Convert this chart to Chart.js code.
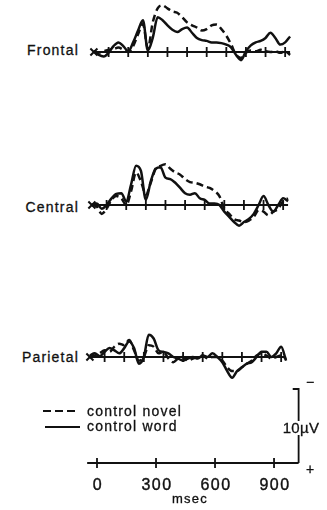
<!DOCTYPE html>
<html>
<head>
<meta charset="utf-8">
<script src="https://cdn.jsdelivr.net/npm/chart.js@4/dist/chart.umd.min.js"></script>
<style>
  body { margin: 0; background: #fff; width: 327px; height: 510px; position: relative; overflow: hidden;
         font-family: "Liberation Sans", Arial, sans-serif; color: #111; }
  canvas { position: absolute; }
  .lbl { position: absolute; font-size: 14px; letter-spacing: 1.2px; line-height: 14px; -webkit-text-stroke: 0.3px #111; }
  .site { text-align: right; width: 70px; }
  .num { transform: translateX(-50%); text-align: center; }
</style>
</head>
<body>
<div class="lbl site" style="left:9px; top:43px;">Frontal</div>
<div class="lbl site" style="left:9px; top:200px;">Central</div>
<div class="lbl site" style="left:9px; top:350px;">Parietal</div>

<canvas id="frontal" width="204" height="80" style="left:89px; top:2px;"></canvas>
<canvas id="central" width="204" height="80" style="left:87px; top:155px;"></canvas>
<canvas id="parietal" width="204" height="80" style="left:85px; top:307px;"></canvas>
<canvas id="calib" width="240" height="130" style="left:80px; top:380px;"></canvas>

<svg style="position:absolute; left:40px; top:404px;" width="45" height="30">
  <line x1="3" y1="7" x2="38" y2="7" stroke="#111" stroke-width="2.2" stroke-dasharray="8 4"/>
  <line x1="5" y1="23" x2="40" y2="23" stroke="#111" stroke-width="2.2"/>
</svg>
<div class="lbl" style="left:87px; top:404px;">control novel</div>
<div class="lbl" style="left:87px; top:419px;">control word</div>

<div class="lbl" style="left:306px; top:375px;">−</div>
<div class="lbl" style="left:306px; top:462px;">+</div>
<div class="lbl num" style="left:301px; top:421px; background:#fff; letter-spacing:0.3px; font-size:15px;">10µV</div>
<div class="lbl num" style="left:190px; top:492px; font-size:13px;">msec</div>

<script>
// time points (ms) shared by all waveforms
const times = [-75, -50, -25, 0, 25, 50, 75, 100, 125, 150, 175, 200, 225, 250, 275, 300, 325, 350, 375, 400,
               425, 450, 475, 500, 525, 550, 575, 600, 625, 650, 675, 700, 725, 750, 775, 800, 825, 850, 875, 900, 925];

// amplitudes in microvolts, negative plotted up
const frontalNovel = [-0.1, 0.1, -0.1, -0.3, -0.4, -0.6, -0.3, 0, -0.8, -2.4, -3.8, -0.5, -4.0, -5.9, -6.3, -5.9, -5.5, -5.3, -4.7, -4.0,
                      -3.6, -3.3, -2.9, -3.1, -3.6, -3.7, -3.1, -2.2, -1.0, 0.4, 0.8, 0.1, -0.2, -0.1, -0.3, -0.1, 0, -0.1, 0.1, -0.1, 0.4];
const frontalWord = [-0.1, 0.4, 0.6, 0.1, -0.8, -1.3, -0.8, -0.1, -1.3, -2.9, -4.3, -0.2, -1.9, -4.7, -4.3, -3.6, -3.0, -2.7, -3.1, -3.3,
                     -2.6, -1.9, -1.6, -1.5, -1.3, -1.3, -1.2, -1.0, -0.6, 0.4, 1.1, -0.1, -0.9, -1.3, -1.5, -1.9, -2.6, -1.9, -1.0, -1.3, -2.1];
const centralNovel = [0, 0.2, 1.2, 0.5, -0.7, -1.2, -0.9, 0, -1.9, -4.4, -3.2, -1.4, -3.0, -4.9, -5.3, -5.5, -4.9, -4.4, -4.1, -3.5,
                      -3.1, -3.0, -2.8, -2.5, -2.3, -1.9, -1.2, 0.5, 1.2, 1.9, 2.1, 2.3, 2.1, 1.6, 0.7, 0.9, 1.4, 0.9, 0.5, -0.5, -0.9];
const centralWord = [0, -0.2, 0.5, 0, -0.9, -1.5, -1.6, -0.5, -2.8, -5.3, -4.6, -0.7, -3.2, -4.9, -5.1, -3.7, -3.5, -3.0, -2.3, -1.6,
                     -1.4, -1.6, -0.9, -0.7, -0.2, -0.2, 0, 0.9, 1.6, 2.3, 2.8, 2.3, 1.9, 1.2, 0, -1.2, 0, 0.9, 0, -0.9, -0.5];
const parietalNovel = [0, -0.2, -0.5, -0.9, -0.7, -1.4, -1.8, -1.6, -2.3, -0.9, 0.5, 0, -1.6, -1.4, -0.5, -0.7, 0.2, 0.7, 0.2, 0,
                       0.5, 0.2, 0, -0.2, 0.2, 0, 0, 0.5, 1.4, 1.9, 1.9, 1.4, 0.9, 0.5, -0.2, -0.5, -0.2, 0.2, 0, -0.2, 0.3];
const parietalWord = [-0.2, -0.5, -0.1, -0.7, -1.2, -0.9, -0.5, -1.2, -2.1, -1.2, 0.9, 0, -3.0, -2.5, -0.9, -0.7, -0.5, 0, 0.2, 0.5,
                      0.2, 0, 0.2, -0.2, 0, -0.5, 0, 0.7, 1.9, 2.8, 1.9, 1.4, 0.9, 0.7, 0, -0.7, -0.7, 0, -0.5, -1.4, 0.5];

const panelTicks = [0, 100, 200, 300, 400, 500, 600, 700, 800, 900];
const calibTicks = [0, 300, 600, 900];
const calibTickLabels = ['0', '300', '600', '900'];
const calibLine = [-50, 1025];     // ms
const calibBarUV = 10;             // microvolts

const PX_PER_UV = 7.4;
const INK = '#111';

// baseline + tick marks drawn through the x scale
const baselinePlugin = {
  id: 'erpAxis',
  beforeDatasetsDraw(chart, args, opts) {
    const { ctx } = chart;
    const xs = chart.scales.x, ys = chart.scales.y;
    const y0 = ys.getPixelForValue(0);
    ctx.save();
    ctx.strokeStyle = INK;
    ctx.lineWidth = 1.8;
    ctx.beginPath();
    ctx.moveTo(xs.getPixelForValue(opts.from), y0);
    ctx.lineTo(xs.getPixelForValue(opts.to), y0);
    opts.ticks.forEach(t => {
      const x = xs.getPixelForValue(t);
      ctx.moveTo(x, y0 - opts.len);
      ctx.lineTo(x, y0 + opts.len);
    });
    ctx.stroke();
    if (opts.labels) {
      ctx.fillStyle = INK;
      ctx.strokeStyle = INK;
      ctx.lineWidth = 0.4;
      ctx.font = '16px "Liberation Sans", Arial, sans-serif';
      ctx.letterSpacing = '1.5px';
      ctx.textAlign = 'center';
      ctx.textBaseline = 'middle';
      opts.ticks.forEach((t, i) => {
        const x = xs.getPixelForValue(t) + 1;
        ctx.fillText(opts.labels[i], x, y0 + 23);
        ctx.strokeText(opts.labels[i], x, y0 + 23);
      });
    }
    ctx.restore();
  }
};

function pts(values) {
  return values.map((v, i) => ({ x: times[i], y: v }));
}

function makePanel(id, novel, word) {
  new Chart(document.getElementById(id), {
    type: 'line',
    data: {
      datasets: [
        { data: pts(novel), borderColor: INK, borderWidth: 2.5, borderDash: [7, 4], pointRadius: 0,
          cubicInterpolationMode: 'monotone' },
        { data: pts(word), borderColor: INK, borderWidth: 2.5, pointRadius: 0,
          cubicInterpolationMode: 'monotone' },
        { data: [{ x: times[0], y: 0 }], showLine: false, pointStyle: 'crossRot', pointRadius: 5,
          pointBorderWidth: 2, pointBorderColor: INK }
      ]
    },
    options: {
      responsive: false,
      animation: false,
      devicePixelRatio: 1,
      layout: { padding: 0, autoPadding: false },
      plugins: {
        legend: { display: false },
        tooltip: { enabled: false },
        erpAxis: { ticks: panelTicks, from: times[0], to: times[times.length - 1], len: 5 }
      },
      scales: {
        x: { type: 'linear', display: false, min: -100, max: 940 },
        y: { display: false, reverse: true, min: -50 / PX_PER_UV, max: 30 / PX_PER_UV }
      }
    },
    plugins: [baselinePlugin]
  });
}

makePanel('frontal', frontalNovel, frontalWord);
makePanel('central', centralNovel, centralWord);
makePanel('parietal', parietalNovel, parietalWord);

// calibration: time axis and 10 µV bar
const barEnd = calibLine[1];
new Chart(document.getElementById('calib'), {
  type: 'line',
  data: {
    datasets: [
      { data: [{ x: barEnd, y: 0 }, { x: barEnd, y: -calibBarUV }, { x: barEnd - 30, y: -calibBarUV }],
        borderColor: INK, borderWidth: 1.8, pointRadius: 0 }
    ]
  },
  options: {
    responsive: false,
    animation: false,
    devicePixelRatio: 1,
    layout: { padding: 0, autoPadding: false },
    plugins: {
      legend: { display: false },
      tooltip: { enabled: false },
      erpAxis: { ticks: calibTicks, labels: calibTickLabels, from: calibLine[0], to: calibLine[1], len: 5 }
    },
    scales: {
      x: { type: 'linear', display: false, min: -17 / 0.1967, max: 223 / 0.1967 },
      y: { display: false, reverse: true, min: -83 / PX_PER_UV, max: 47 / PX_PER_UV }
    }
  },
  plugins: [baselinePlugin]
});
</script>
</body>
</html>
